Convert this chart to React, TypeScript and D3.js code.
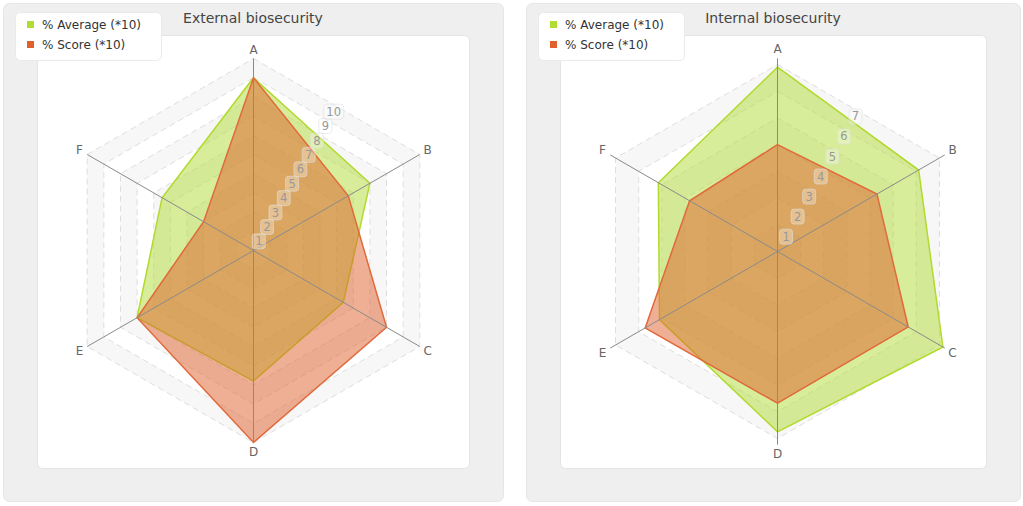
import React from "react";
import * as d3 from "d3";

const axesLabels = ["A", "B", "C", "D", "E", "F"];
const extTitle = "External biosecurity";
const intTitle = "Internal biosecurity";
const seriesNames = ["% Average (*10)", "% Score (*10)"];
const extAverage = [9.0, 7.0, 5.4, 6.8, 7.0, 5.5];
const extScore = [9.0, 5.7, 8.0, 10.0, 7.0, 3.0];
const intAverage = [6.9, 6.1, 7.15, 6.75, 5.1, 5.15];
const intScore = [4.0, 4.3, 5.65, 5.68, 5.72, 3.8];
const extTicks = [1, 2, 3, 4, 5, 6, 7, 8, 9, 10];
const intTicks = [1, 2, 3, 4, 5, 6, 7];

const GREEN_FILL = "#b0dc34";
const GREEN_STROKE = "#b2d92e";
const ORANGE_FILL = "#e0602c";
const ORANGE_STROKE = "#e06a3c";
const FONT = "'DejaVu Sans', Verdana, sans-serif";

type PanelProps = {
  x0: number;
  width: number;
  title: string;
  avg: number[];
  score: number[];
  ticks: number[];
  axisMax: number;
  cx: number;
  cy: number;
  unitR: number;
};

function RadarPanel(p: PanelProps) {
  const gridMax = p.ticks[p.ticks.length - 1];
  const r = d3.scaleLinear().domain([0, gridMax]).range([0, p.unitR]);
  const angle = d3
    .scalePoint<string>()
    .domain(axesLabels)
    .range([0, (2 * Math.PI * (axesLabels.length - 1)) / axesLabels.length]);
  const radial = d3
    .lineRadial<number>()
    .angle((_, i) => angle(axesLabels[i]) as number)
    .radius((v) => r(v))
    .curve(d3.curveLinearClosed);
  const hex = (v: number) => radial(axesLabels.map(() => v)) as string;
  const pt = (lab: string, rad: number) => {
    const a = angle(lab) as number;
    return [Math.sin(a) * rad, -Math.cos(a) * rad];
  };
  const axisR = r(p.axisMax);
  const bands: [number, number][] = [];
  for (let t = gridMax; t > 0; t -= 2) bands.push([t - 1, t]);
  const bandPath = (lo: number, hi: number) => hex(hi) + (lo > 0 ? hex(lo) : "");
  const innerX = p.x0 + 34;
  const innerW = p.width - 34 - 34;
  return (
    <g>
      <rect x={p.x0 + 0.5} y={3.5} width={p.width} height={498} rx={6} fill="#efefef" stroke="#e6e6e6" />
      <rect x={innerX + 0.5} y={35.5} width={innerW} height={433} rx={5} fill="#ffffff" stroke="#e4e4e4" />
      <text x={p.x0 + p.width / 2} y={23} textAnchor="middle" fontFamily={FONT} fontSize={14} fill="#444">
        {p.title}
      </text>
      <g transform={`translate(${p.cx},${p.cy})`}>
        {bands.map(([lo, hi], i) => (
          <path key={"b" + i} d={bandPath(lo, hi)} fill="#f7f7f7" fillRule="evenodd" />
        ))}
        {p.ticks.map((t) => (
          <path key={"g" + t} d={hex(t)} fill="none" stroke="#dedede" strokeDasharray="6,4" strokeWidth={1} />
        ))}
        <path d={radial(p.avg) as string} fill={GREEN_FILL} fillOpacity={0.5} stroke={GREEN_STROKE} strokeWidth={1.5} />
        <path d={radial(p.score) as string} fill={ORANGE_FILL} fillOpacity={0.5} stroke={ORANGE_STROKE} strokeWidth={1.5} />
        {axesLabels.map((lab) => {
          const [x, y] = pt(lab, axisR);
          return <line key={"a" + lab} x1={0} y1={0} x2={x} y2={y} stroke="#8a8a8a" strokeWidth={1} />;
        })}
        {axesLabels.map((lab) => {
          const [x, y] = pt(lab, axisR + 9);
          return (
            <text key={"l" + lab} x={x} y={y + 4} textAnchor="middle" fontFamily={FONT} fontSize={12} fill="#666">
              {lab}
            </text>
          );
        })}
        {p.ticks.map((t) => {
          const d = r(t) * Math.cos(Math.PI / 6) - 6;
          const x = d * Math.cos(Math.PI / 3);
          const y = -d * Math.sin(Math.PI / 3);
          const w = String(t).length > 1 ? 20 : 13;
          return (
            <g key={"t" + t}>
              <rect x={x - w / 2} y={y - 7.5} width={w} height={15} rx={3} fill="#ffffff" fillOpacity={0.3} stroke="#e0e0e0" strokeOpacity={0.6} />
              <text x={x} y={y + 4} textAnchor="middle" fontFamily={FONT} fontSize={11.5} fill="#999">
                {t}
              </text>
            </g>
          );
        })}
      </g>
      <g>
        <rect x={p.x0 + 12.5} y={12.5} width={146} height={48} rx={5} fill="#ffffff" stroke="#eaeaea" />
        {seriesNames.map((s, i) => (
          <g key={s}>
            <rect x={p.x0 + 24} y={21 + i * 20} width={7} height={7} fill={i === 0 ? GREEN_FILL : ORANGE_FILL} />
            <text x={p.x0 + 39} y={29 + i * 20} fontFamily={FONT} fontSize={12} fill="#333">
              {s}
            </text>
          </g>
        ))}
      </g>
    </g>
  );
}

export default function App() {
  return (
    <svg width={1023} height={506} style={{ position: "absolute", left: 0, top: 0 }}>
      <rect width={1023} height={506} fill="#ffffff" />
      <RadarPanel x0={3} width={500} title={extTitle} avg={extAverage} score={extScore} ticks={extTicks} axisMax={10} cx={253.5} cy={250.5} unitR={192} />
      <RadarPanel x0={526} width={494} title={intTitle} avg={intAverage} score={intScore} ticks={intTicks} axisMax={7.23} cx={777.5} cy={251.5} unitR={187} />
    </svg>
  );
}
